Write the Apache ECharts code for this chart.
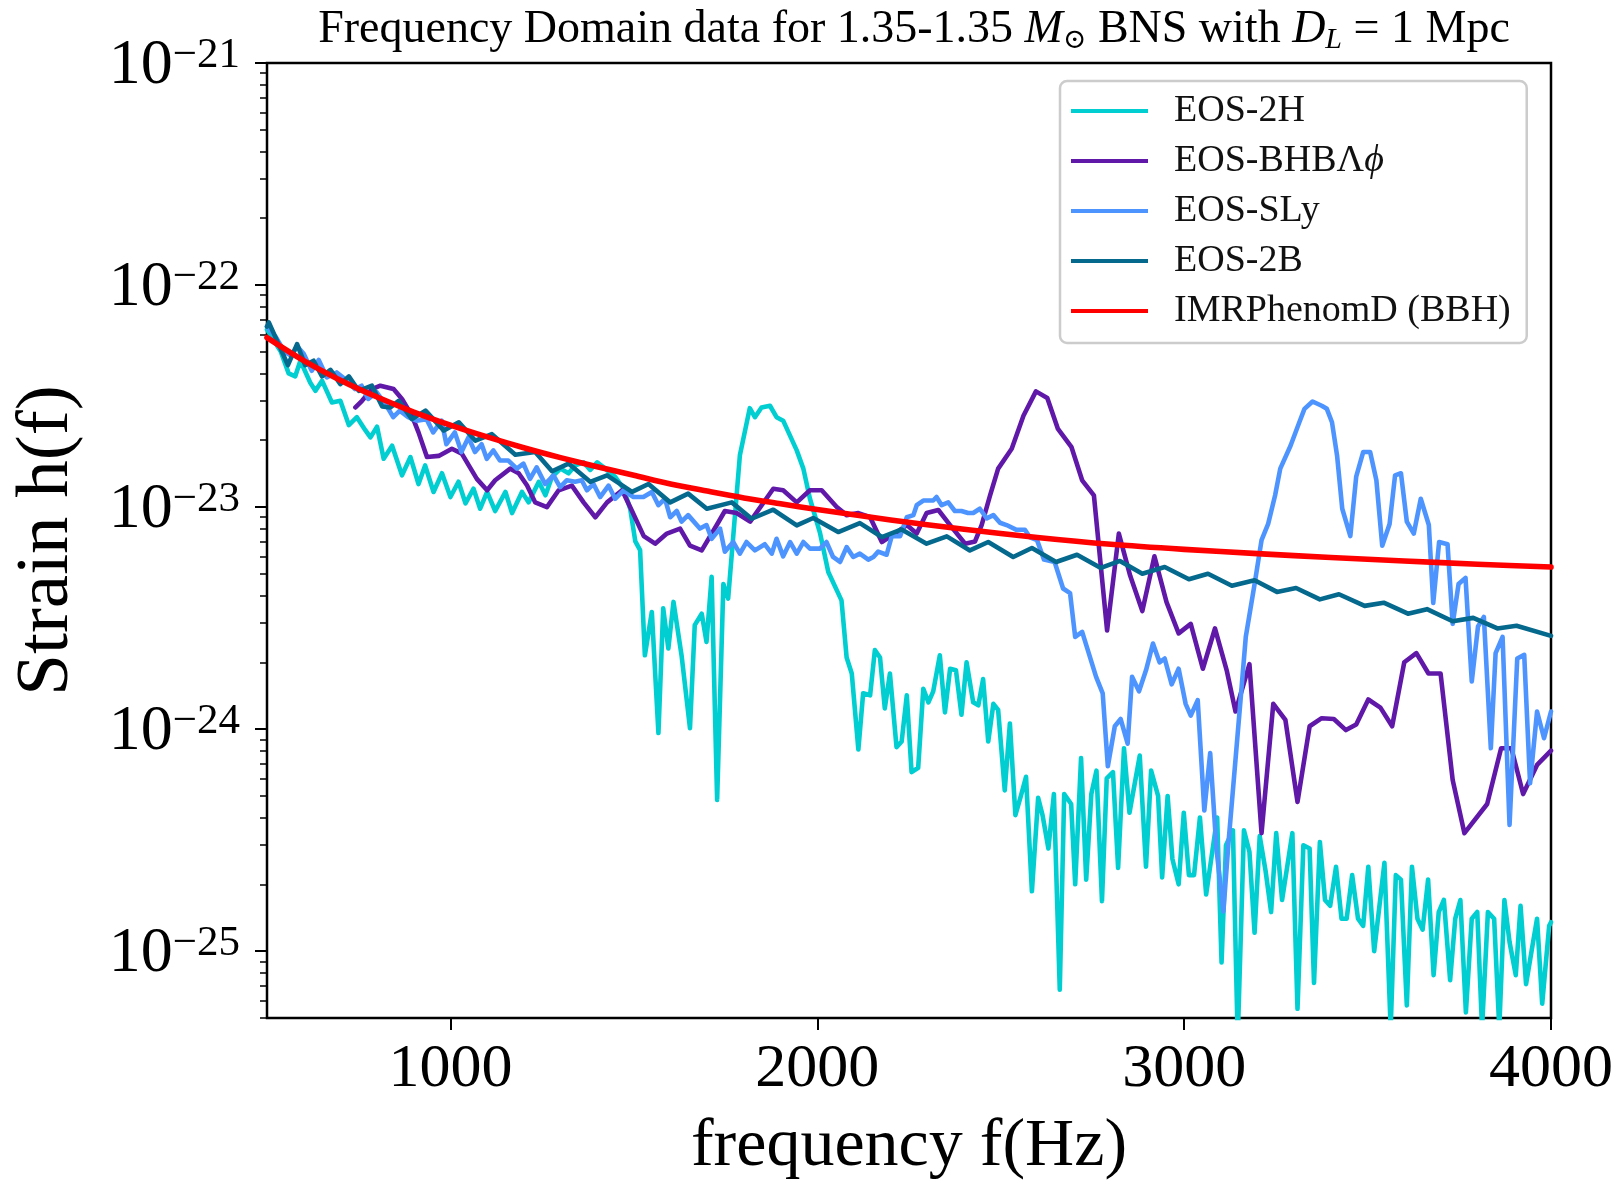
<!DOCTYPE html>
<html><head><meta charset="utf-8">
<script src="https://cdn.jsdelivr.net/npm/echarts@6/dist/echarts.min.js"></script>
<style>html,body{margin:0;padding:0;background:#fff}#c{width:1616px;height:1186px}</style>
</head><body><div id="c"></div>
<script>
// strain values are given in units of 1e-24
const UNIT = 1e-24;
const NAMES = ['EOS-2H', 'EOS-BHB\u039b\u03d5', 'EOS-SLy', 'EOS-2B', 'IMRPhenomD (BBH)'];
const X_TICKS = [1000, 2000, 3000, 4000];
const Y_DECADES = [-25, -24, -23, -22, -21];

const EOS_2H = [[500,63],[538,50],[559,40],[577,38.8],[591,45.6],[618,36.3],[632,33.4],[650,37.1],[677,29.6],[700,30.1],[723,23.4],[745,25.4],[768,22.2],[782,20.6],[800,23.0],[818,16.5],[841,18.9],[868,13.9],[891,16.8],[913,12.7],[931,15.4],[954,11.7],[977,14.2],[1000,11.1],[1022,13.0],[1041,10.4],[1063,12.1],[1081,9.83],[1100,11.7],[1122,9.6],[1150,11.7],[1168,9.4],[1195,11.7],[1213,10.5],[1241,13.0],[1259,11.3],[1277,13.7],[1300,14.9],[1322,14.2],[1340,15.4],[1363,15.9],[1381,14.7],[1400,15.9],[1422,14.9],[1449,13.7],[1472,12.1],[1490,9.83],[1504,7.0],[1517,6.4],[1530,2.15],[1549,3.37],[1567,0.96],[1580,3.5],[1594,2.31],[1608,3.74],[1630,2.15],[1653,1.01],[1666,2.94],[1685,3.31],[1698,2.47],[1712,4.85],[1727,0.48],[1744,4.5],[1757,3.87],[1789,17.1],[1816,27.9],[1830,25.4],[1848,28.1],[1871,28.6],[1889,25.4],[1907,24.5],[1944,18.0],[1962,14.9],[1980,10.9],[2007,7.7],[2030,5.1],[2066,3.8],[2080,2.1],[2094,1.78],[2112,0.81],[2125,1.45],[2144,1.42],[2157,2.27],[2171,2.1],[2184,1.24],[2198,1.78],[2216,0.83],[2230,0.88],[2244,1.42],[2257,0.64],[2275,0.67],[2289,1.52],[2303,1.32],[2316,1.48],[2334,2.15],[2348,1.19],[2362,1.87],[2378,1.84],[2393,1.16],[2407,2.0],[2425,1.32],[2439,1.28],[2452,1.68],[2466,0.88],[2480,1.3],[2493,1.22],[2511,0.53],[2525,1.06],[2540,0.41],[2555,0.5],[2569,0.61],[2585,0.186],[2602,0.49],[2614,0.41],[2630,0.29],[2645,0.51],[2661,0.067],[2673,0.51],[2692,0.46],[2703,0.20],[2719,0.74],[2733,0.21],[2747,0.51],[2761,0.65],[2776,0.168],[2789,0.60],[2806,0.64],[2820,0.237],[2836,0.82],[2851,0.42],[2879,0.76],[2896,0.24],[2910,0.65],[2929,0.5],[2940,0.215],[2955,0.5],[2968,0.26],[2985,0.20],[2999,0.42],[3013,0.22],[3027,0.22],[3043,0.40],[3060,0.18],[3090,0.40],[3102,0.089],[3114,0.30],[3133,0.35],[3146,0.04],[3163,0.35],[3178,0.28],[3192,0.121],[3206,0.33],[3222,0.23],[3237,0.15],[3251,0.34],[3267,0.17],[3295,0.34],[3309,0.055],[3325,0.30],[3342,0.29],[3354,0.072],[3370,0.31],[3384,0.17],[3398,0.16],[3414,0.24],[3429,0.14],[3443,0.14],[3458,0.22],[3474,0.14],[3488,0.13],[3502,0.24],[3518,0.10],[3546,0.25],[3563,0.045],[3577,0.22],[3591,0.21],[3607,0.057],[3621,0.24],[3636,0.14],[3650,0.125],[3665,0.21],[3680,0.078],[3694,0.15],[3708,0.17],[3725,0.074],[3739,0.14],[3753,0.17],[3768,0.053],[3784,0.14],[3799,0.15],[3812,0.045],[3828,0.15],[3845,0.14],[3859,0.045],[3873,0.17],[3887,0.11],[3904,0.078],[3917,0.16],[3932,0.071],[3947,0.10],[3962,0.14],[3976,0.058],[3995,0.13],[4000,0.135]];

const EOS_BHB = [[741,28.1],[759,30.1],[786,34.0],[809,35.2],[845,34.0],[868,30.7],[895,25.8],[913,21.7],[936,16.8],[968,17.0],[1004,18.3],[1031,17.4],[1050,15.4],[1072,13.4],[1100,11.9],[1122,13.2],[1163,14.9],[1186,14.2],[1209,12.5],[1231,10.5],[1263,10.0],[1295,11.9],[1331,12.5],[1363,10.5],[1395,9.0],[1427,10.5],[1468,11.9],[1495,9.6],[1527,7.4],[1558,6.84],[1590,7.6],[1626,8.0],[1653,6.7],[1685,6.38],[1726,8.3],[1748,9.6],[1780,9.4],[1817,8.6],[1880,12.1],[1907,11.9],[1944,10.5],[1980,11.9],[2012,11.9],[2053,10.0],[2080,9.2],[2112,9.4],[2144,9.0],[2176,6.96],[2216,7.7],[2244,8.3],[2271,7.6],[2298,9.4],[2330,9.7],[2362,8.3],[2403,6.84],[2430,7.0],[2448,8.3],[2471,11.3],[2493,14.9],[2530,18.3],[2562,25.8],[2596,33.2],[2627,31.0],[2656,22.5],[2693,18.6],[2722,13.2],[2754,11.3],[2790,2.78],[2822,7.6],[2853,4.9],[2886,3.4],[2919,6.0],[2952,3.73],[2985,2.7],[3018,2.98],[3051,1.87],[3084,2.84],[3116,1.84],[3140,1.2],[3178,1.96],[3211,0.34],[3243,1.3],[3276,1.1],[3309,0.47],[3342,1.03],[3375,1.12],[3408,1.11],[3441,0.99],[3469,1.05],[3502,1.36],[3535,1.25],[3567,1.03],[3600,2.0],[3633,2.2],[3666,1.78],[3699,1.78],[3732,0.59],[3764,0.34],[3826,0.46],[3864,0.82],[3892,0.82],[3924,0.51],[3962,0.69],[4000,0.8]];

const EOS_SLY = [[500,65],[525,58],[548,50],[566,48],[582,53],[600,49],[622,41.1],[641,46.0],[663,38.4],[690,40.4],[718,37.1],[740,34.0],[758,35.2],[776,30.7],[799,32.9],[826,28.6],[844,25.4],[862,27.2],[885,25.4],[908,24.5],[935,24.9],[953,21.7],[976,24.5],[989,19.2],[1012,21.7],[1030,17.7],[1049,20.6],[1067,17.7],[1085,19.2],[1099,16.5],[1117,18.0],[1135,16.2],[1158,16.2],[1181,14.9],[1199,15.7],[1217,13.4],[1235,15.1],[1258,12.7],[1281,13.9],[1299,12.3],[1317,13.2],[1340,13.0],[1358,13.2],[1372,11.9],[1390,12.7],[1408,11.1],[1431,12.5],[1449,10.9],[1472,11.9],[1499,11.1],[1526,11.1],[1549,11.7],[1567,10.2],[1585,10.9],[1599,9.0],[1617,9.6],[1630,8.6],[1648,9.2],[1680,8.0],[1698,8.3],[1712,7.2],[1735,8.0],[1748,6.3],[1771,6.96],[1789,6.17],[1807,6.96],[1830,6.38],[1857,6.8],[1876,6.17],[1889,7.2],[1907,6.0],[1926,6.96],[1944,6.17],[1962,6.96],[1980,6.5],[2007,6.5],[2025,6.96],[2043,5.96],[2062,5.66],[2080,6.6],[2098,5.96],[2116,6.17],[2139,5.8],[2153,5.96],[2166,6.3],[2189,6.1],[2203,7.4],[2226,7.4],[2244,9.0],[2262,9.2],[2271,10.2],[2289,10.7],[2316,10.7],[2325,11.1],[2339,10.2],[2357,10.5],[2375,9.6],[2393,9.6],[2411,9.4],[2425,9.4],[2443,9.83],[2462,8.9],[2480,9.2],[2498,8.5],[2516,8.3],[2543,7.9],[2566,7.9],[2580,7.3],[2599,7.1],[2618,5.8],[2647,5.66],[2670,4.3],[2689,4.1],[2703,2.6],[2722,2.74],[2760,1.72],[2778,1.45],[2792,0.68],[2811,1.03],[2827,1.11],[2846,0.86],[2858,1.72],[2877,1.48],[2896,1.84],[2915,2.43],[2933,2.0],[2947,2.08],[2966,1.59],[2985,1.87],[3004,1.3],[3018,1.15],[3037,1.35],[3055,0.43],[3071,0.78],[3088,0.29],[3107,0.151],[3121,0.31],[3154,1.37],[3168,2.6],[3192,4.5],[3211,7.1],[3229,8.4],[3248,11.3],[3262,14.9],[3290,18.9],[3314,24.1],[3328,27.7],[3350,29.9],[3375,28.6],[3389,27.7],[3403,24.1],[3417,17.0],[3431,9.83],[3453,7.4],[3469,13.7],[3488,17.7],[3507,17.7],[3524,13.2],[3540,6.7],[3560,8.4],[3575,13.9],[3591,14.2],[3607,8.6],[3626,7.6],[3645,10.9],[3667,8.3],[3679,3.7],[3695,6.96],[3718,6.8],[3732,2.98],[3748,4.5],[3767,4.8],[3784,1.64],[3801,2.9],[3817,3.2],[3836,0.82],[3849,2.2],[3868,2.6],[3887,0.37],[3908,2.08],[3927,2.16],[3943,0.57],[3962,1.2],[3981,0.91],[4000,1.2]];

const EOS_2B = [[500,65],[505,67.9],[557,43.6],[582,54.2],[604,43.6],[627,45.6],[650,38.8],[673,41.5],[700,35.8],[723,38.8],[750,33.4],[786,35.2],[814,28.4],[836,28.1],[859,30.1],[895,24.9],[932,27.2],[982,22.1],[1023,24.1],[1068,19.9],[1113,21.3],[1177,17.2],[1231,17.7],[1277,14.5],[1322,15.7],[1381,13.0],[1427,13.9],[1495,11.7],[1540,12.7],[1599,10.5],[1648,11.5],[1699,9.83],[1767,10.5],[1821,8.86],[1880,9.73],[1944,8.27],[1989,8.93],[2057,7.72],[2116,8.47],[2176,7.33],[2230,7.93],[2298,6.84],[2353,7.38],[2416,6.38],[2466,6.96],[2534,5.96],[2585,6.54],[2651,5.66],[2708,6.10],[2773,5.32],[2825,5.72],[2886,5.01],[2947,5.37],[3013,4.73],[3065,5.01],[3130,4.42],[3192,4.68],[3253,4.15],[3305,4.32],[3370,3.84],[3422,4.05],[3492,3.59],[3544,3.71],[3610,3.31],[3662,3.47],[3732,3.06],[3788,3.17],[3854,2.84],[3906,2.92],[4000,2.63]];

const IMR_BBH = [[500,58],[600,45.7],[700,37.3],[800,31.3],[900,26.8],[1000,23.4],[1100,20.7],[1200,18.5],[1300,16.7],[1400,15.2],[1500,13.9],[1600,12.7],[1700,11.8],[1800,11.0],[1900,10.35],[2000,9.75],[2200,8.75],[2400,7.95],[2600,7.3],[2800,6.8],[3000,6.45],[3200,6.17],[3400,5.93],[3600,5.72],[3800,5.53],[4000,5.37]];

const COLORS = ['#00ced1', '#6018a8', '#4d94ff', '#05698e', '#ff0000'];
const Y_MIN = 5e-26, Y_MAX = 1e-21;

const FONT = '"Liberation Serif", "DejaVu Serif", serif';
const LMIN = Math.log10(Y_MIN);
const MINOR = [];
for (let e = -26; e <= -22; e++) for (let k = 2; k <= 9; k++) {
  const v = e + Math.log10(k);
  if (v >= LMIN - 1e-9 && v <= -21) MINOR.push(v);
}
const toData = arr => arr.map(p => [p[0], p[1] * UNIT]);
const SETS = [EOS_2H, EOS_BHB, EOS_SLY, EOS_2B, IMR_BBH];

const T = (size, extra) => Object.assign({fontFamily: FONT, fontSize: size, color: '#000', fontWeight: 'normal'}, extra || {});

const chart = echarts.init(document.getElementById('c'), null, {renderer: 'canvas'});
chart.setOption({
  animation: false,
  backgroundColor: '#fff',
  title: {
    left: 909, top: 0, textAlign: 'center',
    text: '{r|Frequency Domain data for 1.35-1.35 }{i|M}{sub|\u2299}{r| BNS with }{i|D}{isub|L}{r| = 1 Mpc}',
    textStyle: T(46, {
      lineHeight: 50,
      rich: {
        r: T(46, {lineHeight: 50}),
        i: T(46, {lineHeight: 50, fontStyle: 'italic'}),
        sub: T(28, {lineHeight: 28, verticalAlign: 'bottom'}),
        isub: T(30, {lineHeight: 28, fontStyle: 'italic', verticalAlign: 'bottom'})
      }
    })
  },
  grid: {left: 267, right: 65, top: 63, bottom: 166, containLabel: false, show: true, borderColor: '#000', borderWidth: 2.5, backgroundColor: 'transparent'},
  legend: {
    orient: 'vertical', left: 1060, top: 81,
    data: NAMES,
    icon: 'rect', itemWidth: 77, itemHeight: 4, itemGap: 10,
    padding: [10, 16, 12, 11],
    borderColor: '#cccccc', borderWidth: 2.5, borderRadius: 7, backgroundColor: '#fff',
    formatter: n => n === NAMES[1] ? '{a|EOS-BHB\u039b}{p|\u03d5}' : n,
    textStyle: T(38, {lineHeight: 40, color: '#111', padding: [0, 0, 0, 21],
      rich: {a: T(38, {lineHeight: 40, color: '#111'}), p: T(38, {lineHeight: 40, color: '#111', fontStyle: 'italic'})}})
  },
  xAxis: [{
    type: 'value', min: 500, max: 4000,
    axisLine: {show: false}, splitLine: {show: false},
    axisTick: {customValues: X_TICKS, length: 12, lineStyle: {color: '#000', width: 2}},
    axisLabel: Object.assign(T(62, {lineHeight: 62}), {customValues: X_TICKS, margin: 21, formatter: v => String(v)}),
    name: 'frequency f(Hz)', nameLocation: 'middle', nameGap: 95,
    nameTextStyle: T(68, {lineHeight: 68})
  }],
  yAxis: [{
    type: 'log', logBase: 10, min: Y_MIN, max: Y_MAX,
    axisLine: {show: false}, axisTick: {show: false}, axisLabel: {show: false}, splitLine: {show: false}, minorTick: {show: false},
    name: 'Strain h(f)', nameLocation: 'middle', nameGap: 182, nameRotate: 90,
    nameTextStyle: T(75, {lineHeight: 75})
  }, {
    type: 'value', min: LMIN, max: -21, position: 'left',
    axisLine: {show: false}, splitLine: {show: false},
    axisTick: {customValues: Y_DECADES, length: 12, lineStyle: {color: '#000', width: 2}},
    axisLabel: {
      customValues: Y_DECADES, margin: 27, color: '#000', padding: [7, 0, 0, 0],
      formatter: v => '{b|10}{s|\u2212' + Math.round(-v) + '}',
      rich: {
        b: T(64, {lineHeight: 64, verticalAlign: 'bottom'}),
        s: T(43, {lineHeight: 43, verticalAlign: 'top', padding: [0, 0, 26, 0]})
      }
    }
  }, {
    type: 'value', min: LMIN, max: -21, position: 'left',
    axisLine: {show: false}, splitLine: {show: false}, axisLabel: {show: false},
    axisTick: {customValues: MINOR, length: 7, lineStyle: {color: '#000', width: 1.5}}
  }],
  series: SETS.map((set, i) => ({
    name: NAMES[i], type: 'line', xAxisIndex: 0, yAxisIndex: 0,
    data: toData(set), showSymbol: false, symbol: 'none',
    smooth: i === 4 ? 0.3 : false,
    clip: true,
    itemStyle: {color: COLORS[i]},
    lineStyle: {color: COLORS[i], width: i === 4 ? 5.6 : 4.6, join: 'round', cap: 'round'},
    z: 2 + i
  }))
});
</script>
</body></html>
